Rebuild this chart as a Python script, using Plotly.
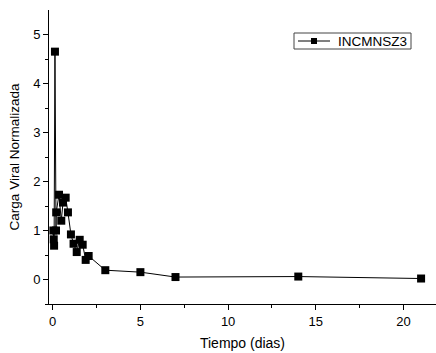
import plotly.graph_objects as go

dias = [0.04, 0.06, 0.08, 0.13, 0.19, 0.2, 0.36, 0.49, 0.59, 0.74, 0.87, 1.04, 1.19, 1.37,
        1.54, 1.71, 1.88, 2.05, 3.0, 5.0, 7.0, 14.0, 21.0]
carga = [1.0, 0.82, 0.69, 4.65, 1.0, 1.37, 1.73, 1.2, 1.57, 1.67, 1.37, 0.92, 0.73, 0.56,
         0.81, 0.71, 0.40, 0.48, 0.19, 0.15, 0.05, 0.06, 0.02]
serie = "INCMNSZ3"

FONT = "Liberation Sans, Arial"
W, H = 436, 353
ML, MR, MT, MB = 49, 0, 10, 49
PW, PH = W - ML - MR, H - MT - MB


def px(x):
    return (x - ML) / PW


def py(y):
    return (H - MB - y) / PH


fig = go.Figure()
fig.add_trace(go.Scatter(
    x=dias, y=carga, mode="lines+markers", name=serie, showlegend=False,
    line=dict(color="black", width=1),
    marker=dict(symbol="square", size=8, color="black"),
))

axis_common = dict(
    showline=True, linecolor="black", linewidth=1,
    ticks="outside", ticklen=5, tickwidth=1, tickcolor="black",
    showgrid=False, zeroline=False,
    tickfont=dict(family=FONT, size=13, color="black"),
)

# legend drawn as box + sample + label
shapes = [
    dict(type="rect", xref="paper", yref="paper",
         x0=px(294), x1=px(411), y0=py(33), y1=py(49),
         line=dict(color="#444", width=1), fillcolor="white", layer="above"),
    dict(type="line", xref="paper", yref="paper",
         x0=px(298), x1=px(330), y0=py(41), y1=py(41),
         line=dict(color="black", width=1), layer="above"),
    dict(type="rect", xref="paper", yref="paper",
         x0=px(311), x1=px(317), y0=py(38), y1=py(44),
         line=dict(color="black", width=0), fillcolor="black", layer="above"),
]

fig.update_layout(
    width=W, height=H,
    margin=dict(l=ML, r=MR, t=MT, b=MB),
    paper_bgcolor="white", plot_bgcolor="white",
    font=dict(family=FONT, size=14, color="black"),
    xaxis=dict(range=[-0.21, 21.85], tickvals=[0, 5, 10, 15, 20],
               title=dict(text="Tiempo (dias)", font=dict(size=14), standoff=10),
               minor=dict(ticks="outside", ticklen=3, tickcolor="black", tickwidth=1,
                          tickvals=[2.5, 7.5, 12.5, 17.5]),
               **axis_common),
    yaxis=dict(range=[-0.5, 5.5], tickvals=[0, 1, 2, 3, 4, 5],
               title=dict(text="Carga Viral Normalizada", font=dict(size=13.5), standoff=10),
               minor=dict(ticks="outside", ticklen=3, tickcolor="black", tickwidth=1,
                          tickvals=[-0.5, 0.5, 1.5, 2.5, 3.5, 4.5]),
               **axis_common),
    showlegend=False,
    shapes=shapes,
    annotations=[dict(xref="paper", yref="paper", x=px(336), y=py(41),
                      xanchor="left", yanchor="middle", showarrow=False,
                      text=serie, font=dict(family=FONT, size=13.5, color="black"))],
)

fig.write_html("out.html")
